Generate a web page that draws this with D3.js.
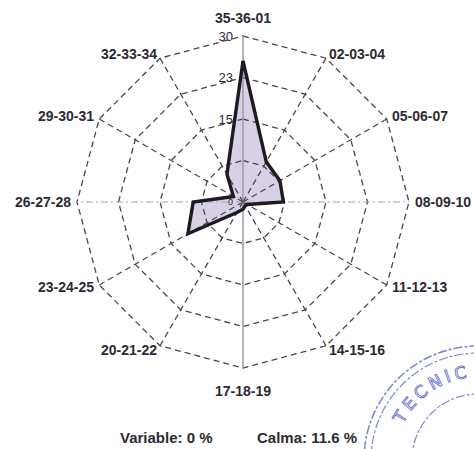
<!DOCTYPE html>
<html>
<head>
<meta charset="utf-8">
<script src="https://cdn.jsdelivr.net/npm/d3@7"></script>
<style>
  html, body { margin: 0; padding: 0; background: #fff; }
  svg { display: block; }
</style>
</head>
<body>
<svg id="chart" width="474" height="449"></svg>
<script>
// ---- data ----
const directions = ["35-36-01", "02-03-04", "05-06-07", "08-09-10", "11-12-13", "14-15-16",
                    "17-18-19", "20-21-22", "23-24-25", "26-27-28", "29-30-31", "32-33-34"];
const frequencies = [25.5, 8.4, 7.7, 7.3, 0.9, 0.8, 1.3, 2.2, 11.5, 9.0, 2.0, 5.8];
const ringValues = [7.5, 15, 22.5, 30];
const tickValues = [0, 15, 22.5, 30];
const tickLabels = ["0", "15", "23", "30"];
const footerTexts = ["Variable: 0 %", "Calma: 11.6 %"];
const stampText = "TECNIC";

// ---- layout ----
const svg = d3.select("#chart");
const cx = 243, cy = 202;
const r = d3.scaleLinear().domain([0, 30]).range([0, 166]);
const ang = d3.scaleLinear().domain([0, directions.length]).range([0, 2 * Math.PI]);
const g = svg.append("g").attr("transform", `translate(${cx},${cy})`);

const radial = d3.lineRadial().curve(d3.curveLinearClosed);

// polygon fill (beneath grid)
const polyPts = frequencies.map((v, i) => [ang(i), r(v)]);
g.append("path")
  .attr("d", radial(polyPts))
  .attr("fill", "#d8d1e6")
  .attr("stroke", "none");

// rings
ringValues.forEach(v => {
  g.append("path")
    .attr("d", radial(directions.map((d, i) => [ang(i), r(v)])))
    .attr("fill", "none")
    .attr("stroke", "#4a4650")
    .attr("stroke-width", 1.3)
    .attr("stroke-dasharray", "6,4");
});

// spokes
directions.forEach((d, i) => {
  const a = ang(i);
  const x2 = Math.sin(a) * r(30), y2 = -Math.cos(a) * r(30);
  const line = g.append("line")
    .attr("x1", 0).attr("y1", 0).attr("x2", x2).attr("y2", y2)
    .attr("fill", "none");
  if (i === 0 || i === 6) {
    line.attr("stroke", "#a49cac").attr("stroke-width", 1.6);
  } else if (i === 3 || i === 9) {
    line.attr("stroke", "#a59fc0").attr("stroke-width", 1.2).attr("stroke-dasharray", "7,3,2,3");
  } else {
    line.attr("stroke", "#4a4650").attr("stroke-width", 1.3).attr("stroke-dasharray", "6,4");
  }
});

// polygon outline
g.append("path")
  .attr("d", radial(polyPts))
  .attr("fill", "none")
  .attr("stroke", "#1d1a22")
  .attr("stroke-width", 3.4)
  .attr("stroke-linejoin", "miter");

// tick labels
tickValues.forEach((v, i) => {
  g.append("text")
    .attr("x", -10)
    .attr("y", -r(v))
    .attr("dy", "0.35em")
    .attr("text-anchor", "end")
    .attr("font-family", "Liberation Sans, Arial, sans-serif")
    .attr("font-size", i === 0 ? 9 : 13)
    .attr("fill", "#2e2a33")
    .text(tickLabels[i]);
});

// direction labels
directions.forEach((d, i) => {
  const a = ang(i);
  const s = Math.sin(a), c = Math.cos(a);
  let x = s * r(30), y = -c * r(30);
  let anchor = "middle";
  if (i === 0) { y -= 18; }
  else if (i === 6) { y += 23; }
  else {
    anchor = s > 0 ? "start" : "end";
    x += s * 6;
    y -= c * 5;
  }
  g.append("text")
    .attr("x", x).attr("y", y)
    .attr("dy", "0.35em")
    .attr("text-anchor", anchor)
    .attr("font-family", "Liberation Sans, Arial, sans-serif")
    .attr("font-weight", "bold")
    .attr("font-size", 14)
    .attr("fill", "#2e2a33")
    .text(d);
});

// footer
[[120, footerTexts[0]], [257, footerTexts[1]]].forEach(([x, t]) => {
  svg.append("text")
    .attr("x", x).attr("y", 438)
    .attr("dy", "0.35em")
    .attr("font-family", "Liberation Sans, Arial, sans-serif")
    .attr("font-weight", "bold")
    .attr("font-size", 15)
    .attr("fill", "#2e2a33")
    .text(t);
});

// stamp (scan decoration)
const sx = 478, sy = 460;
const stamp = svg.append("g").attr("transform", `translate(${sx},${sy})`);
[[114, 1.6], [107, 1.2], [66, 1.2]].forEach(([rr, w]) => {
  stamp.append("circle").attr("r", rr)
    .attr("fill", "none").attr("stroke", "#6b72cf")
    .attr("stroke-width", w).attr("stroke-dasharray", "9,2,3,2").attr("opacity", 0.85);
});
const br = 83, a0 = -1.15, a1 = 1.2;
const p0 = [br * Math.sin(a0), -br * Math.cos(a0)], p1 = [br * Math.sin(a1), -br * Math.cos(a1)];
stamp.append("path").attr("id", "stampArc")
  .attr("d", `M${p0[0]},${p0[1]} A${br},${br} 0 0 1 ${p1[0]},${p1[1]}`)
  .attr("fill", "none");
stamp.append("text")
  .attr("font-family", "DejaVu Sans, sans-serif")
  .attr("font-size", 17)
  .attr("letter-spacing", 4)
  .attr("fill", "none").attr("stroke", "#6b72cf").attr("stroke-width", 0.9)
  .append("textPath").attr("href", "#stampArc").attr("startOffset", 2)
  .text(stampText);
</script>
</body>
</html>
